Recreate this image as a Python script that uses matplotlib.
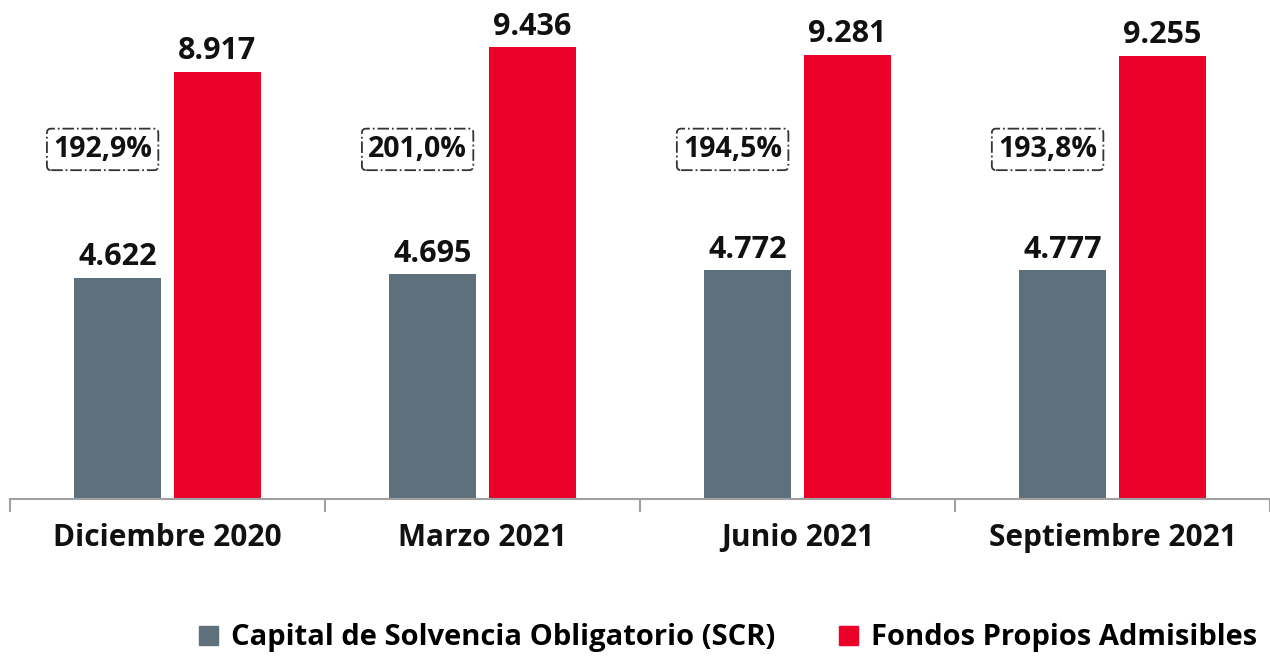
import numpy as np
import matplotlib as mpl
import matplotlib.pyplot as plt
from matplotlib.patches import Patch

mpl.rcParams['font.family'] = ['Open Sans', 'DejaVu Sans']
mpl.rcParams['font.weight'] = 'bold'

# data (millones)
periods = ['Diciembre 2020', 'Marzo 2021', 'Junio 2021', 'Septiembre 2021']
scr = [4622, 4695, 4772, 4777]
fondos = [8917, 9436, 9281, 9255]
ratios = ['192,9%', '201,0%', '194,5%', '193,8%']

GREY = '#5f707d'
RED = '#eb0028'

fig = plt.figure(figsize=(12.7, 6.57), dpi=100)
ax = fig.add_axes([10 / 1270, 158 / 657, 1260 / 1270, 499 / 657])

x = np.arange(len(periods))
w = 0.275
off = 0.158
b1 = ax.bar(x - off, scr, w, color=GREY)
b2 = ax.bar(x + off, fondos, w, color=RED)

for bars in (b1, b2):
    for b in bars:
        v = b.get_height()
        ax.annotate(f'{v / 1000:.3f}', (b.get_x() + b.get_width() / 2, v),
                    xytext=(0, 4), textcoords='offset points',
                    ha='center', va='bottom', fontsize=22, fontweight='bold',
                    color='#111111')

# solvency ratio boxes
for xi, r in zip(x, ratios):
    ax.text(xi - off - 0.048, 7300, r, ha='center', va='center',
            fontsize=20.5, fontweight='bold', color='#111111',
            bbox=dict(boxstyle='round,pad=0.22,rounding_size=0.15', fc='white',
                      ec='#333333', lw=1.3, ls='-.'))

ax.set_xlim(-0.5, len(periods) - 0.5)
ax.set_ylim(0, 10420)
ax.set_yticks([])
for s in ('top', 'right', 'left'):
    ax.spines[s].set_visible(False)
ax.spines['bottom'].set_color('#a0a0a0')
ax.spines['bottom'].set_linewidth(1.5)

ax.set_xticks(x)
ax.set_xticklabels(periods, fontsize=21.5, fontweight='bold', color='#111111')
ax.tick_params(axis='x', which='major', length=0, pad=17)
ax.set_xticks(np.arange(-0.5, len(periods), 1.0), minor=True)
ax.tick_params(axis='x', which='minor', length=9, width=1.5, color='#a0a0a0')

handles = [Patch(color=GREY, label='Capital de Solvencia Obligatorio (SCR)'),
           Patch(color=RED, label='Fondos Propios Admisibles')]
fig.legend(handles=handles, loc='center', bbox_to_anchor=(728 / 1270, 1 - 638 / 657),
           ncol=2, frameon=False, handlelength=0.65,
           handleheight=0.65, handletextpad=0.45, columnspacing=2.2,
           prop={'weight': 'bold', 'size': 21})

fig.savefig('out.png', dpi=100)
